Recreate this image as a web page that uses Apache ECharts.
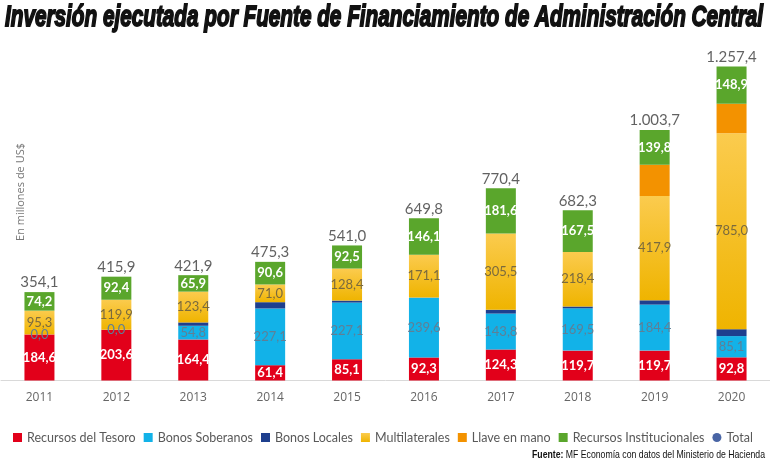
<!DOCTYPE html>
<html><head><meta charset="utf-8">
<script src="https://cdn.jsdelivr.net/npm/echarts@6/dist/echarts.min.js"></script>
<style>html,body{margin:0;padding:0;background:#fff}#c{width:770px;height:462px}</style>
</head><body><div id="c"></div>
<script>
var years = ['2011','2012','2013','2014','2015','2016','2017','2018','2019','2020'];
var tesoro = [184.6, 203.6, 164.4, 61.4, 85.1, 92.3, 124.3, 119.7, 119.7, 92.8];
var soberanos = [0.0, 0.0, 54.8, 227.1, 227.1, 239.6, 143.8, 169.5, 184.4, 85.1];
var locales = [0, 0, 13.4, 25.2, 7.9, 0.7, 15.2, 7.2, 17.0, 27.6];
var multilaterales = [95.3, 119.9, 123.4, 71.0, 128.4, 171.1, 305.5, 218.4, 417.9, 785.0];
var llave = [0, 0, 0, 0, 0, 0, 0, 0, 124.9, 118.0];
var institucionales = [74.2, 92.4, 65.9, 90.6, 92.5, 146.1, 181.6, 167.5, 139.8, 148.9];
var totales = [354.1, 415.9, 421.9, 475.3, 541.0, 649.8, 770.4, 682.3, 1003.7, 1257.4];

var titleText = 'Inversión ejecutada por Fuente de Financiamiento de Administración Central';
var fuenteBold = 'Fuente:';
var fuenteText = ' MF Economía con datos del Ministerio de Hacienda';

function fmt(v) {
  var s = v.toFixed(1).split('.');
  s[0] = s[0].replace(/\B(?=(\d{3})+(?!\d))/g, '.');
  return s[0] + ',' + s[1];
}
var cv = document.createElement('canvas').getContext('2d');
function measure(font, t) { cv.font = font; return cv.measureText(t).width; }

var titleFont = 'italic bold 30px "Liberation Sans"';
var titleW = measure(titleFont, titleText);
var titleScale = 758 / titleW;
var fw = measure('bold 11px "Liberation Sans"', fuenteBold) + measure('11px "Liberation Sans"', fuenteText);
var fScale = 233 / fw;

var chart = echarts.init(document.getElementById('c'), null, {renderer: 'canvas'});
var lblFont = 'Lato';
function barSeries(name, data, color, label) {
  return {
    name: name, type: 'bar', stack: 'a', barWidth: 30, data: data,
    itemStyle: {color: color},
    label: label ? Object.assign({show: true, position: 'inside', fontFamily: lblFont, fontSize: 13,
      formatter: function (p) { return fmt(p.value); }}, label) : {show: false},
    emphasis: {disabled: true}
  };
}
var multiGrad = new echarts.graphic.LinearGradient(0, 0, 0, 1, [
  {offset: 0, color: '#fbcb4e'}, {offset: 1, color: '#efb400'}]);

chart.setOption({
  animation: false,
  backgroundColor: '#fff',
  grid: {left: 1, right: -10, top: 31, bottom: 81.5},
  xAxis: {
    type: 'category', data: years,
    axisLine: {lineStyle: {color: '#d9d9d9', width: 1}},
    axisTick: {show: false},
    axisLabel: {color: '#666', fontFamily: 'Open Sans', fontSize: 12, margin: 11}
  },
  yAxis: {type: 'value', min: 0, max: 1400, show: false, splitLine: {show: false}},
  legend: {
    left: 8, top: 426, itemWidth: 9, itemHeight: 9, itemGap: 8, icon: 'rect',
    textStyle: {color: '#595959', fontFamily: 'Lato', fontSize: 12.5},
    data: ['Recursos del Tesoro', 'Bonos Soberanos', 'Bonos Locales', 'Multilaterales', 'Llave en mano', 'Recursos Institucionales',
      {name: 'Total', icon: 'circle'}]
  },
  series: [
    barSeries('Recursos del Tesoro', tesoro, '#e2001a', {color: '#fff', fontWeight: 'bold'}),
    barSeries('Bonos Soberanos', soberanos, '#12b2e8', {color: '#5f7f96'}),
    barSeries('Bonos Locales', locales, '#1e3f8e', null),
    barSeries('Multilaterales', multilaterales, multiGrad, {color: '#7a6a3e'}),
    barSeries('Llave en mano', llave, '#f39200', null),
    barSeries('Recursos Institucionales', institucionales, '#5aa62c', {color: '#fff', fontWeight: 'bold'}),
    {
      name: 'Total', type: 'scatter', data: totales, symbolSize: 0,
      itemStyle: {color: '#1b3f8f'},
      label: {show: true, position: 'top', distance: 2, color: '#3a3a3a', fontFamily: 'Lato', fontSize: 15,
        formatter: function (p) { return fmt(p.value); }},
      emphasis: {disabled: true}
    }
  ],
  graphic: [
    {type: 'text', x: 5, y: 18, scaleX: titleScale,
      style: {text: titleText, font: titleFont, fill: '#111', verticalAlign: 'middle',
        stroke: '#111', lineWidth: 1.8,
        shadowColor: 'rgba(0,0,0,0.45)', shadowOffsetX: 1.5, shadowOffsetY: 1.5, shadowBlur: 2}},
    {type: 'text', x: 21, y: 192, rotation: Math.PI / 2,
      style: {text: 'En millones de US$', font: '11px "Open Sans"', fill: '#777', align: 'center', verticalAlign: 'middle'}},
    {type: 'text', x: 765 - 233, y: 455, scaleX: fScale,
      style: {text: '{b|' + fuenteBold + '}{r|' + fuenteText + '}', verticalAlign: 'middle', fill: '#111',
        rich: {b: {fontFamily: 'Liberation Sans', fontWeight: 'bold', fontSize: 11, fill: '#111'},
               r: {fontFamily: 'Liberation Sans', fontSize: 11, fill: '#111'}}}}
  ]
});
</script>
</body></html>
